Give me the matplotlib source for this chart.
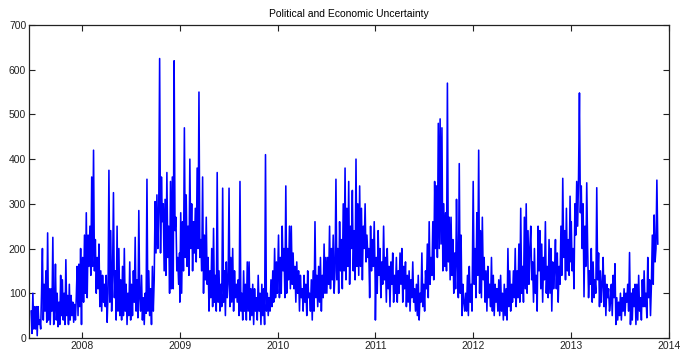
import matplotlib
matplotlib.use('Agg')
import matplotlib.pyplot as plt
import matplotlib.dates as mdates
import numpy as np
import pandas as pd

# index values, roughly 9 readings per month
v2007 = [60, 10, 100, 20,
         70, 20, 70, 5, 70, 30, 40, 20, 100,
         200, 40, 120, 60, 150, 35, 235, 40, 110, 30,
         110, 60, 225, 30, 70, 165, 40, 100, 25,
         80, 30, 140, 50, 130, 40, 100, 30, 175,
         50, 95, 30, 120, 40, 95, 50, 80, 35,
         75, 40, 90, 160, 50, 165, 70, 200, 30]

v2008 = [95, 180, 80, 230, 100, 280, 90, 230, 160,
         250, 140, 360, 160, 420, 150, 220, 100, 180,
         110, 210, 70, 150, 60, 140, 80, 120, 70,
         140, 35, 100, 375, 80, 240, 60, 140, 325,
         90, 150, 40, 250, 60, 200, 50, 130, 40,
         160, 50, 200, 60, 120, 30, 100, 50, 170,
         40, 120, 50, 150, 80, 225, 60, 130, 45, 285,
         90, 60, 140, 40, 90, 30, 100, 55, 355,
         60, 150, 50, 110, 30, 160, 60, 130, 305,
         190, 320, 200, 280, 625, 190, 360, 260, 300,
         150, 310, 140, 370, 180, 250, 100, 350, 110,
         360, 110, 620, 240, 270, 150, 180, 120, 190]

v2009 = [80, 280, 100, 260, 150, 470, 180, 320, 160,
         250, 140, 400, 200, 300, 150, 260, 190, 290,
         170, 380, 200, 550, 180, 220, 150, 360, 100,
         230, 130, 270, 120, 180, 60, 150, 90, 200,
         70, 245, 80, 140, 60, 370, 80, 150, 60,
         120, 70, 335, 80, 150, 50, 170, 90, 120,
         335, 70, 180, 80, 200, 60, 150, 90, 120,
         80, 130, 50, 350, 60, 100, 40, 150, 60,
         120, 40, 170, 60, 170, 40, 110, 50, 120,
         30, 110, 60, 90, 40, 140, 60, 100, 30,
         120, 50, 110, 30, 410, 60, 100, 50, 90,
         60, 130, 70, 150, 80, 200, 90, 170, 100]

v2010 = [130, 230, 90, 180, 100, 250, 150, 200, 90,
         340, 100, 200, 130, 250, 110, 250, 120, 190,
         110, 160, 80, 170, 100, 150, 60, 140, 90,
         110, 60, 140, 80, 120, 50, 150, 90, 100,
         60, 130, 40, 150, 60, 260, 90, 140, 70,
         160, 80, 180, 60, 140, 90, 210, 100, 180,
         100, 180, 120, 250, 110, 200, 130, 230, 100,
         150, 355, 130, 200, 100, 260, 150, 220, 110,
         300, 150, 380, 130, 290, 160, 350, 120, 250,
         200, 330, 150, 240, 130, 400, 160, 300, 140,
         340, 160, 290, 130, 250, 200, 300, 170, 230,
         180, 200, 90, 250, 150, 220, 160, 260, 130]

v2011 = [40, 180, 100, 240, 140, 200, 90, 170, 120,
         250, 130, 180, 80, 200, 110, 160, 70, 170,
         120, 190, 80, 140, 100, 180, 80, 150, 100,
         190, 120, 200, 80, 160, 110, 170, 70, 140,
         80, 150, 60, 130, 90, 170, 80, 110, 60,
         120, 50, 140, 40, 100, 80, 190, 70, 120,
         60, 150, 110, 210, 90, 260, 120, 180, 140,
         260, 130, 350, 200, 340, 180, 480, 200, 490,
         210, 470, 150, 300, 160, 280, 150, 570, 170,
         270, 130, 270, 140, 220, 100, 190, 110, 310,
         160, 90, 390, 100, 230, 50, 120, 80, 60,
         100, 60, 140, 50, 160, 80, 120, 60, 270]

v2012 = [350, 120, 200, 90, 280, 140, 420, 100, 240,
         90, 270, 130, 180, 80, 150, 60, 160, 90,
         120, 70, 180, 60, 140, 50, 120, 80, 110,
         60, 130, 50, 140, 60, 100, 40, 120, 50,
         110, 40, 200, 70, 150, 60, 120, 80, 150,
         90, 200, 70, 150, 90, 210, 80, 290, 100,
         160, 80, 270, 110, 300, 100, 240, 120, 200,
         250, 130, 170, 80, 200, 100, 140, 60, 250,
         150, 240, 110, 210, 80, 180, 130, 260, 100,
         160, 90, 220, 100, 200, 60, 170, 110, 150,
         220, 110, 190, 80, 160, 120, 250, 140, 357,
         180, 240, 130, 290, 150, 220, 140, 317, 170]

v2013 = [260, 150, 200, 110, 300, 230, 350, 250, 360,
         548, 280, 340, 200, 300, 92, 250, 160, 347,
         200, 90, 150, 120, 200, 80, 170, 90, 130,
         100, 336, 130, 190, 70, 150, 80, 120, 180,
         70, 140, 50, 120, 90, 110, 60, 80, 120,
         50, 140, 90, 166, 30, 90, 40, 80, 50,
         100, 40, 90, 60, 110, 50, 100, 80, 120,
         60, 191, 30, 100, 40, 110, 70, 120, 30,
         120, 40, 140, 60, 90, 40, 130, 70, 150,
         70, 100, 45, 180, 90, 130, 50, 120, 230,
         120, 275, 170, 200, 353, 210]

spans = [('2007-06-26', '2007-12-31', v2007),
         ('2008-01-01', '2008-12-31', v2008),
         ('2009-01-01', '2009-12-31', v2009),
         ('2010-01-01', '2010-12-31', v2010),
         ('2011-01-01', '2011-12-31', v2011),
         ('2012-01-01', '2012-12-31', v2012),
         ('2013-01-01', '2013-11-20', v2013)]

dates = []
vals = []
for start, end, v in spans:
    dates.extend(pd.date_range(start, end, periods=len(v)))
    vals.extend(v)

plt.rcParams['font.family'] = ['Liberation Sans', 'DejaVu Sans']

fig = plt.figure(figsize=(6.82, 3.52), dpi=100)
ax = fig.add_axes([0.0425, 0.040, 0.9385, 0.889])

ax.plot(dates, vals, color='#0000ff', linewidth=1.15)

ax.set_xlim(pd.Timestamp('2007-06-18'), pd.Timestamp('2014-01-01'))
ax.set_ylim(0, 700)
ax.set_yticks(np.arange(0, 701, 100))
ax.xaxis.set_major_locator(mdates.YearLocator())
ax.xaxis.set_major_formatter(mdates.DateFormatter('%Y'))

ax.tick_params(direction='in', length=4, width=0.8, labelsize=7.5,
               top=True, right=True, colors='#222222', pad=2)
for s in ax.spines.values():
    s.set_linewidth(0.9)
    s.set_color('#222222')

ax.set_title('Political and Economic Uncertainty', fontsize=7.5, pad=6)

fig.savefig('out.png', dpi=100)
